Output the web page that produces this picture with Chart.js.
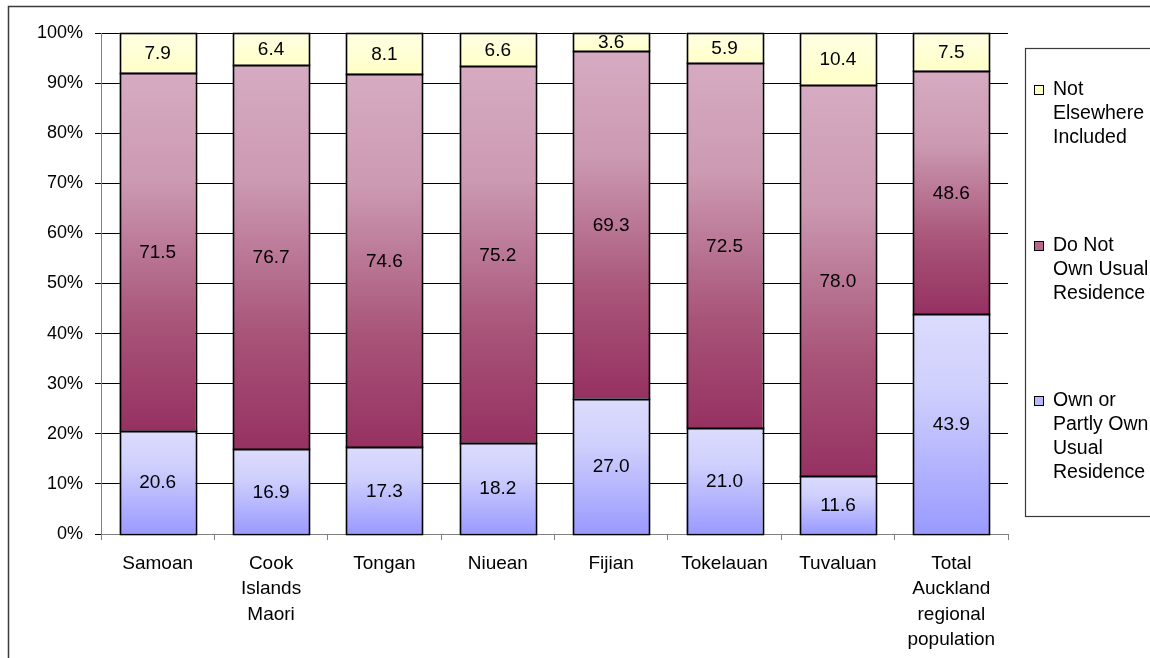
<!DOCTYPE html>
<html>
<head>
<meta charset="utf-8">
<title>Home ownership by Pacific ethnic group, Auckland</title>
<script src="https://cdn.jsdelivr.net/npm/chart.js@4.4.1/dist/chart.umd.min.js"></script>
<style>
  html, body { margin: 0; padding: 0; background: #fff; }
  #wrap { width: 1150px; height: 658px; position: relative; }
</style>
</head>
<body>
<div id="wrap"><canvas id="chart" width="1150" height="658"></canvas></div>
<script>
// Categories (multi-line axis labels)
const categories = [
  ['Samoan'],
  ['Cook', 'Islands', 'Maori'],
  ['Tongan'],
  ['Niuean'],
  ['Fijian'],
  ['Tokelauan'],
  ['Tuvaluan'],
  ['Total', 'Auckland', 'regional', 'population']
];

// Series values (percent of each group)
const ownOrPartlyOwn = [20.6, 16.9, 17.3, 18.2, 27.0, 21.0, 11.6, 43.9];
const doNotOwn       = [71.5, 76.7, 74.6, 75.2, 69.3, 72.5, 78.0, 48.6];
const notElsewhere   = [7.9, 6.4, 8.1, 6.6, 3.6, 5.9, 10.4, 7.5];

// Legend text, one entry per line
const seriesNames = [
  ['Own or', 'Partly Own', 'Usual', 'Residence'],
  ['Do Not', 'Own Usual', 'Residence'],
  ['Not', 'Elsewhere', 'Included']
];

// Y axis tick labels
const yTicks = [0, 10, 20, 30, 40, 50, 60, 70, 80, 90, 100];

const FONT = "'Liberation Sans', Arial, sans-serif";
const seriesValues = [ownOrPartlyOwn, doNotOwn, notElsewhere];

// 100% stacked: each segment is its share of the category total
const totals = categories.map((_, i) => seriesValues.reduce((s, arr) => s + arr[i], 0));
const shares = seriesValues.map(arr => arr.map((v, i) => v / totals[i] * 100));

// Vertical gradient stops per series (top of segment -> bottom of segment)
const gradientStops = [
  [[0, '#dcdcfd'], [0.35, '#cfcffd'], [1, '#9a9aff']],
  [[0, '#d6abc1'], [0.3, '#cc9ab2'], [0.7, '#a85478'], [1, '#963162']],
  [[0, '#ffffe4'], [1, '#ffffc8']]
];
const legendColors = ['#b8b8ff', '#b8668c', '#ffffcc'];

function segmentFill(dsIndex) {
  return function (ctx) {
    const chart = ctx.chart;
    const y = chart.scales.y;
    if (!chart.chartArea || !y || ctx.dataIndex === undefined) return legendColors[dsIndex];
    let low = 0;
    for (let k = 0; k < dsIndex; k++) low += shares[k][ctx.dataIndex];
    const high = low + shares[dsIndex][ctx.dataIndex];
    const yTop = y.getPixelForValue(high);
    const yBot = y.getPixelForValue(low);
    if (!isFinite(yTop) || !isFinite(yBot) || yTop === yBot) return legendColors[dsIndex];
    const g = chart.ctx.createLinearGradient(0, yTop, 0, yBot);
    gradientStops[dsIndex].forEach(s => g.addColorStop(s[0], s[1]));
    return g;
  };
}

// Crisp black outline round every bar segment, then the value centred inside it
const segmentOutlineAndLabels = {
  id: 'segmentOutlineAndLabels',
  afterDatasetsDraw(chart) {
    const c = chart.ctx;
    c.save();
    c.strokeStyle = '#000';
    c.lineWidth = 1.6;
    chart.data.datasets.forEach((ds, di) => {
      chart.getDatasetMeta(di).data.forEach(bar => {
        const left = Math.round(bar.x - bar.width / 2) + 0.5;
        const right = Math.round(bar.x + bar.width / 2) + 0.5;
        const top = Math.round(Math.min(bar.y, bar.base)) + 0.5;
        const bottom = Math.round(Math.max(bar.y, bar.base)) + 0.5;
        c.strokeRect(left, top, right - left, bottom - top);
      });
    });
    c.font = '19px ' + FONT;
    c.fillStyle = '#000';
    c.textAlign = 'center';
    c.textBaseline = 'middle';
    chart.data.datasets.forEach((ds, di) => {
      chart.getDatasetMeta(di).data.forEach((bar, i) => {
        const v = seriesValues[di][i];
        c.fillText(v.toFixed(1), bar.x, (bar.y + bar.base) / 2 + 1);
      });
    });
    c.restore();
  }
};

// Outer frame and the boxed legend on the right
const frameAndLegend = {
  id: 'frameAndLegend',
  beforeDraw(chart) {
    const c = chart.ctx;
    c.save();
    c.fillStyle = '#fff';
    c.fillRect(0, 0, chart.width, chart.height);
    c.strokeStyle = '#3a3a3a';
    c.lineWidth = 1.5;
    c.strokeRect(8.5, 6.5, 1200, 700);
    c.restore();
  },
  afterDraw(chart) {
    const c = chart.ctx;
    c.save();
    c.strokeStyle = '#3a3a3a';
    c.lineWidth = 1.2;
    c.strokeRect(1025.5, 48.5, 200, 468);
    c.font = '19.5px ' + FONT;
    c.textAlign = 'left';
    c.textBaseline = 'middle';
    const groupTop = [401, 246, 90];
    seriesNames.forEach((lines, si) => {
      const y0 = groupTop[si];
      c.fillStyle = legendColors[si];
      c.fillRect(1034, y0 - 5, 9, 9);
      c.strokeStyle = '#000';
      c.lineWidth = 1;
      c.strokeRect(1034.5, y0 - 4.5, 9, 9);
      c.fillStyle = '#000';
      lines.forEach((t, li) => c.fillText(t, 1053, y0 + li * 24));
    });
    c.restore();
  }
};

const datasets = shares.map((data, di) => ({
  label: seriesNames[di].join(' '),
  data: data,
  backgroundColor: segmentFill(di),
  borderWidth: 0,
  categoryPercentage: 0.67,
  barPercentage: 1
}));

Chart.defaults.font.family = FONT;
Chart.defaults.color = '#000';

new Chart(document.getElementById('chart'), {
  type: 'bar',
  data: { labels: categories, datasets: datasets },
  options: {
    responsive: false,
    animation: false,
    devicePixelRatio: 1,
    layout: { padding: { left: 0, top: 33, right: 142, bottom: 0 } },
    plugins: { legend: { display: false }, tooltip: { enabled: false } },
    scales: {
      x: {
        stacked: true,
        grid: {
          display: true,
          drawOnChartArea: false,
          drawTicks: true,
          tickLength: 6,
          offset: true,
          color: '#808080'
        },
        border: { display: true, color: '#808080', width: 1 },
        ticks: {
          font: { size: 19, lineHeight: 1.34 },
          padding: 11,
          maxRotation: 0,
          autoSkip: false
        },
        afterFit(scale) { scale.height = 124; }
      },
      y: {
        stacked: true,
        min: 0,
        max: 100,
        afterBuildTicks(scale) { scale.ticks = yTicks.map(v => ({ value: v })); },
        grid: { color: '#000', lineWidth: 1, tickLength: 6, drawTicks: true },
        border: { display: true, color: '#808080', width: 1 },
        ticks: {
          font: { size: 18 },
          padding: 12,
          callback: v => v + '%'
        },
        afterFit(scale) { scale.width = 101; }
      }
    }
  },
  plugins: [frameAndLegend, segmentOutlineAndLabels]
});
</script>
</body>
</html>
